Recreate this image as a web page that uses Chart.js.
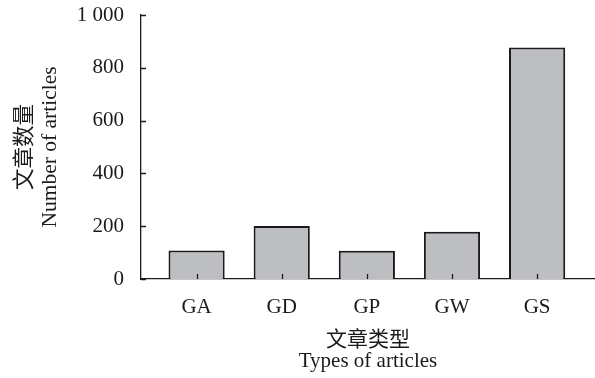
<!DOCTYPE html>
<html><head><meta charset="utf-8">
<script src="https://cdn.jsdelivr.net/npm/chart.js@4"></script>
<style>html,body{margin:0;padding:0;background:#fff}canvas{display:block}</style>
</head><body>
<canvas id="c" width="595" height="378"></canvas>
<script>
const categories = ['GA', 'GD', 'GP', 'GW', 'GS'];
const articleCounts = [108, 201, 107, 179, 877];
const yTickValues = [0, 200, 400, 600, 800, 1000];
const yTickLabels = ['0', '200', '400', '600', '800', '1 000'];
const xTitleLines = ['文章类型', 'Types of articles'];
const yTitleLines = ['文章数量', 'Number of articles'];

const FONT = "'Liberation Serif','Noto Sans CJK SC',serif";
const INK = '#1a1a1a';
Chart.defaults.font.family = FONT;
Chart.defaults.color = INK;

const inwardTicks = {
  id: 'inwardTicks',
  afterDatasetsDraw(chart) {
    const { ctx, scales: { x, y }, chartArea } = chart;
    ctx.save();
    ctx.strokeStyle = INK;
    ctx.lineWidth = 1.3;
    ctx.beginPath();
    x.ticks.forEach(t => {
      const px = Math.round(x.getPixelForValue(t.value)) + 0.5;
      ctx.moveTo(px, chartArea.bottom);
      ctx.lineTo(px, chartArea.bottom - 5);
    });
    y.ticks.forEach(t => {
      const py = Math.round(y.getPixelForValue(t.value)) + 0.5;
      ctx.moveTo(chartArea.left, py);
      ctx.lineTo(chartArea.left + 5, py);
    });
    ctx.stroke();
    ctx.restore();
  }
};

new Chart(document.getElementById('c'), {
  type: 'bar',
  data: {
    datasets: [{
      data: categories.map((c, i) => ({ x: i, y: articleCounts[i] })),
      backgroundColor: '#bdbec2',
      borderColor: INK,
      borderWidth: 2,
      borderSkipped: 'start',
      barPercentage: 0.66,
      categoryPercentage: 1
    }]
  },
  plugins: [inwardTicks],
  options: {
    responsive: false,
    animation: false,
    devicePixelRatio: 1,
    layout: { padding: { top: 15, right: 0, left: 0, bottom: 0 } },
    plugins: { legend: { display: false }, tooltip: { enabled: false } },
    scales: {
      x: {
        type: 'linear',
        offset: false,
        min: -0.653,
        max: 4.68,
        afterBuildTicks: s => { s.ticks = categories.map((c, i) => ({ value: i })); },
        afterFit: s => { s.height = 99; s.paddingLeft = 0; s.paddingRight = 0; },
        ticks: { callback: v => categories[v], font: { size: 21 }, padding: 16, maxRotation: 0, autoSkip: false },
        grid: { display: false, drawTicks: false, offset: false },
        border: { color: INK, width: 1.3 },
        title: { display: true, text: xTitleLines, font: { size: 21, lineHeight: 1.0 }, padding: { top: 4, bottom: 6 } }
      },
      y: {
        min: 0,
        max: 1000,
        afterBuildTicks: s => { s.ticks = yTickValues.map(v => ({ value: v })); },
        afterFit: s => { s.width = 141; s.paddingTop = 0; s.paddingBottom = 0; },
        ticks: { callback: (v, i) => yTickLabels[i], font: { size: 21 }, padding: 17 },
        grid: { display: false, drawTicks: false },
        border: { color: INK, width: 1.3 },
        title: { display: true, text: yTitleLines, font: { size: 21.5, lineHeight: 1.2 }, padding: { top: 12, bottom: 0 } }
      }
    }
  }
});
</script>
</body></html>
